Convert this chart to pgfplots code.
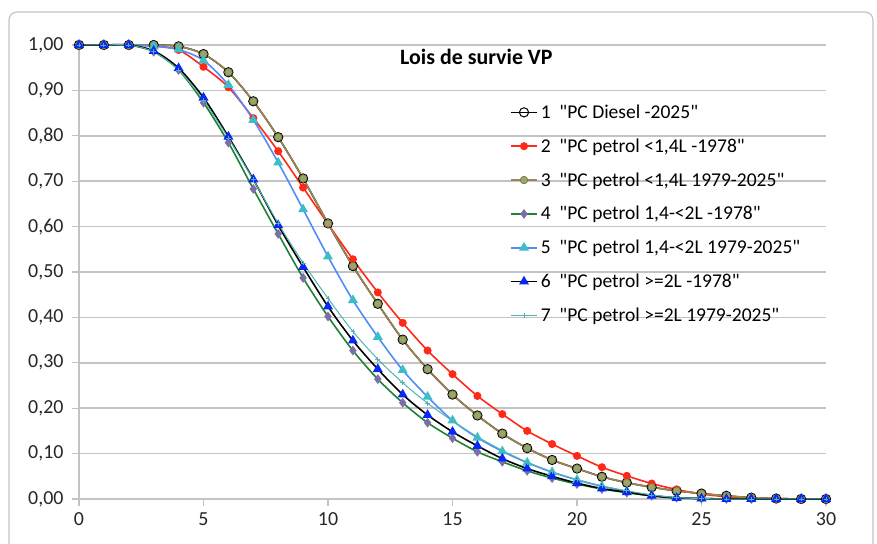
\documentclass[border=0pt]{standalone}
\usepackage{pgfplots}
\pgfplotsset{compat=1.18}
\usepackage{pgfplotstable}
\usepackage{fontspec}
\setmainfont{Carlito}[Ligatures=TeXOff]
\usetikzlibrary{calc}

\definecolor{cred}{RGB}{255,40,25}
\definecolor{ctan}{RGB}{155,135,85}
\definecolor{colive}{RGB}{155,165,100}
\definecolor{cgreen}{RGB}{30,130,50}
\definecolor{cpurple}{RGB}{125,110,170}
\definecolor{ccorn}{RGB}{80,140,250}
\definecolor{ccyan}{RGB}{60,190,200}
\definecolor{cblue}{RGB}{10,40,245}
\definecolor{cteal}{RGB}{80,180,180}
\definecolor{cgrid}{RGB}{195,195,195}

% survival share by age (years), one column per vehicle class
\pgfplotstableread{
x  s1    s2    s3    s4    s5    s6    s7
0  1.000 1.000 1.000 1.000 1.000 1.000 1.000
1  1.000 1.000 1.000 1.000 1.000 1.000 1.000
2  1.000 1.000 1.000 1.000 1.000 1.000 1.000
3  1.000 0.998 1.000 0.985 0.997 0.987 0.985
4  0.997 0.989 0.997 0.945 0.990 0.949 0.945
5  0.980 0.952 0.980 0.873 0.966 0.884 0.878
6  0.940 0.907 0.940 0.785 0.912 0.798 0.795
7  0.876 0.839 0.876 0.683 0.835 0.704 0.703
8  0.797 0.766 0.797 0.584 0.741 0.603 0.607
9  0.706 0.686 0.706 0.487 0.638 0.511 0.520
10 0.607 0.606 0.607 0.402 0.534 0.424 0.442
11 0.513 0.528 0.513 0.327 0.438 0.349 0.369
12 0.430 0.455 0.430 0.264 0.357 0.286 0.308
13 0.351 0.388 0.351 0.212 0.284 0.230 0.256
14 0.286 0.327 0.286 0.168 0.225 0.185 0.211
15 0.230 0.275 0.230 0.134 0.173 0.148 0.172
16 0.184 0.227 0.184 0.104 0.135 0.117 0.137
17 0.144 0.187 0.144 0.082 0.105 0.089 0.107
18 0.112 0.150 0.112 0.062 0.080 0.067 0.081
19 0.086 0.121 0.086 0.046 0.059 0.050 0.060
20 0.067 0.095 0.067 0.033 0.042 0.035 0.043
21 0.049 0.070 0.049 0.022 0.028 0.023 0.029
22 0.036 0.051 0.036 0.014 0.017 0.015 0.018
23 0.026 0.034 0.026 0.007 0.008 0.007 0.009
24 0.018 0.021 0.018 0.003 0.003 0.002 0.003
25 0.012 0.011 0.012 0.001 0.001 0.001 0.001
26 0.007 0.005 0.007 0.000 0.000 0.000 0.000
27 0.003 0.002 0.003 0.000 0.000 0.000 0.000
28 0.001 0.001 0.001 0.000 0.000 0.000 0.000
29 0.000 0.000 0.000 0.000 0.000 0.000 0.000
30 0.000 0.000 0.000 0.000 0.000 0.000 0.000
}\survie

\begin{document}
\begin{tikzpicture}
\begin{axis}[
  name=ax,
  scale only axis,
  width=747bp, height=454bp,
  xmin=0, xmax=30, ymin=0, ymax=1,
  xtick={0,5,10,15,20,25,30},
  ytick={0,0.1,0.2,0.3,0.4,0.5,0.6,0.7,0.8,0.9,1},
  axis x line*=bottom, axis y line*=left,
  axis line style={draw=cgrid, line width=1.3bp},
  ymajorgrids,
  major grid style={draw=cgrid, line width=1.6bp},
  tick style={draw=cgrid, line width=1.2bp},
  tick align=outside, major tick length=7bp,
  /pgf/number format/assume math mode=true,
  ticklabel style={font=\fontsize{20}{20}\selectfont, text=black!85},
  yticklabel style={xshift=-5bp, /pgf/number format/.cd, use comma, fixed, fixed zerofill, precision=2},
  xticklabel style={yshift=-3bp},
  clip=false,
  every axis plot/.append style={smooth, line width=1.6bp},
  legend cell align=left,
  legend style={at={(rel axis cs:0.577,0.873)}, anchor=north west, draw=none, fill=none,
    font=\fontsize{19.6}{19.6}\selectfont, row sep=14.8bp, inner sep=0pt,
    nodes={inner xsep=3bp}},
  legend image code/.code={\draw[mark repeat=2,mark phase=2] plot coordinates {(0bp,0bp) (13bp,0bp) (26bp,0bp)};},
]
\addplot[black, mark=o, mark size=4.6bp, mark options={black, line width=1bp}] table[x=x,y=s1] {\survie};
\addlegendentry{1\hspace{0.45em}"PC Diesel -2025"}
\addplot[cred, mark=*, mark size=3.2bp] table[x=x,y=s2] {\survie};
\addlegendentry{2\hspace{0.45em}"PC petrol <1,4L -1978"}
\addplot[ctan, mark=*, mark size=3.8bp, mark options={fill=colive, draw=colive!70!black, line width=0.6bp}] table[x=x,y=s3] {\survie};
\addlegendentry{3\hspace{0.45em}"PC petrol <1,4L 1979-2025"}
\addplot[cgreen, mark=diamond*, mark size=3.6bp, mark options={fill=cpurple, draw=cpurple}] table[x=x,y=s4] {\survie};
\addlegendentry{4\hspace{0.45em}"PC petrol 1,4-<2L -1978"}
\addplot[ccorn, mark=triangle*, mark size=4.2bp, mark options={fill=ccyan, draw=ccyan}] table[x=x,y=s5] {\survie};
\addlegendentry{5\hspace{0.45em}"PC petrol 1,4-<2L 1979-2025"}
\addplot[black, mark=triangle*, mark size=4.2bp, mark options={fill=cblue, draw=cblue}] table[x=x,y=s6] {\survie};
\addlegendentry{6\hspace{0.45em}"PC petrol >=2L -1978"}
\addplot[cteal, line width=1bp, mark=+, mark size=2.4bp, mark options={cteal, line width=0.8bp}] table[x=x,y=s7] {\survie};
\addlegendentry{7\hspace{0.45em}"PC petrol >=2L 1979-2025"}
\node[font=\bfseries\fontsize{22}{22}\selectfont] at (rel axis cs:0.532,0.974) {Lois de survie VP};
\end{axis}
\draw[cgrid, line width=1.2bp, rounded corners=8bp] ($(ax.south west)+(-70bp,-70bp)$) rectangle ($(ax.south west)+(794bp,487bp)$);
\pgfresetboundingbox
\path[use as bounding box] ($(ax.south west)+(-79bp,-45bp)$) rectangle ($(ax.south west)+(798bp,499bp)$);
\end{tikzpicture}
\end{document}
